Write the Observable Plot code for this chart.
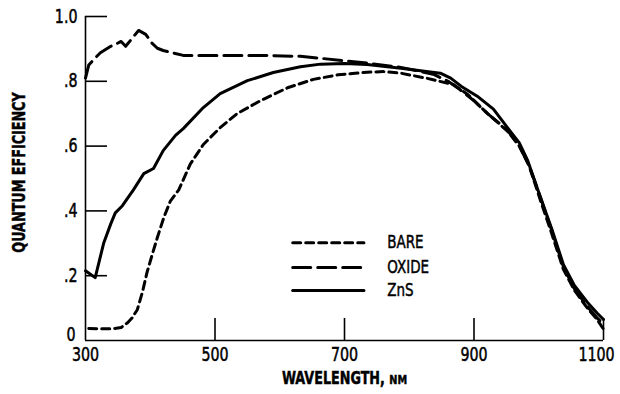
<!DOCTYPE html>
<html><head><meta charset="utf-8">
<script src="https://cdn.jsdelivr.net/npm/d3@7"></script>
<script src="https://cdn.jsdelivr.net/npm/@observablehq/plot@0.6"></script>
<style>
body{margin:0;background:#fff}
#chart svg{display:block}
</style>
</head><body><div id="chart"></div>
<script>
// ---- data ----
const bareWl = [305,320,340,355,365,372,380,388,395,403,411,421,431,444,462,482,508,534,570,612,652,690,735,760,787,828,868,890,921,952,970,985,1003,1020,1038,1055,1075,1090,1100];
const bareQe = [.037,.036,.036,.04,.055,.07,.095,.15,.21,.265,.318,.38,.43,.465,.545,.605,.657,.70,.74,.78,.806,.82,.828,.83,.825,.809,.79,.76,.70,.646,.60,.54,.43,.33,.22,.155,.10,.065,.035];

const oxideWl = [300,305,313,323,339,349,355,362,373,382,393,403,411,420,451,508,570,632,663,735,787,837,860,876,900,921,941,955,970,985,1003,1020,1038,1055,1075,1090,1100];
const oxideQe = [.81,.85,.868,.888,.908,.917,.923,.908,.935,.957,.945,.917,.902,.895,.88,.88,.88,.877,.871,.856,.843,.822,.80,.778,.74,.70,.667,.64,.60,.54,.44,.34,.228,.16,.105,.07,.05];

const znsWl = [300,315,328,339,346,357,374,390,405,420,439,451,482,508,550,590,632,663,700,735,787,848,864,880,905,930,952,970,983,1003,1020,1038,1055,1075,1090,1100];
const znsQe = [.215,.194,.30,.36,.394,.416,.465,.515,.531,.586,.633,.654,.719,.762,.802,.827,.845,.853,.855,.852,.84,.825,.81,.785,.754,.714,.656,.61,.555,.44,.345,.235,.17,.118,.085,.065];

const seriesNames = ["BARE", "OXIDE", "ZnS"];
const xTicks = [300, 500, 700, 900, 1100];
const yTicks = [0, 0.2, 0.4, 0.6, 0.8, 1.0];
const yTickLabels = ["0", ".2", ".4", ".6", ".8", "1.0"];
const xTitle = "WAVELENGTH, NM";
const yTitle = "QUANTUM EFFICIENCY";

// ---- tables ----
const toRows = (wl, qe) => wl.map((w, i) => ({wl: w, qe: qe[i]}));
const bare = toRows(bareWl, bareQe);
const oxide = toRows(oxideWl, oxideQe);
const zns = toRows(znsWl, znsQe);

// legend layout (in chart units)
const legendX1 = 620, legendX2 = 730, legendTextX = 766;
const legendY = [0.302, 0.225, 0.154];
const dashes = ["8,5", "18,7", null];
const legendLine = (i) => [{wl: legendX1, qe: legendY[i]}, {wl: legendX2, qe: legendY[i]}];

const font = "'DejaVu Sans', sans-serif";
const squeeze = 0.75; // condensed lettering as in the original
const sw = 3;
const yLabel = (d) => yTickLabels[yTicks.indexOf(d)];

const plot = Plot.plot({
  width: 620,
  height: 394,
  marginLeft: 85,
  marginRight: 17,
  marginTop: 16,
  marginBottom: 54,
  style: {fontFamily: font, fontSize: "18px", color: "#000", background: "#fff"},
  x: {domain: [300, 1100]},
  y: {domain: [0, 1]},
  marks: [
    // axis lines
    Plot.ruleX([300], {stroke: "#000", strokeWidth: 1.6}),
    Plot.ruleY([0], {stroke: "#000", strokeWidth: 1.6}),
    // inward ticks
    Plot.axisX({ticks: xTicks.slice(1), tickSize: -22, tickFormat: () => "", label: null, strokeWidth: 1.6}),
    Plot.axisY({ticks: yTicks.slice(1), tickSize: -22, tickFormat: () => "", label: null, strokeWidth: 1.6}),
    // tick labels
    Plot.axisX({ticks: xTicks.slice(0, -1), tickSize: 0, tickPadding: 7, tickFormat: d => String(d), label: null, fontSize: 19, fontFamily: font}),
    Plot.axisX({ticks: xTicks.slice(-1), tickSize: 0, tickPadding: 7, dx: -7, tickFormat: d => String(d), label: null, fontSize: 19, fontFamily: font}),
    Plot.axisY({ticks: yTicks.slice(1), tickSize: 0, tickPadding: 8, tickFormat: yLabel, label: null, fontSize: 19, fontFamily: font}),
    Plot.axisY({ticks: yTicks.slice(0, 1), tickSize: 0, tickPadding: 10, dy: -6, tickFormat: yLabel, label: null, fontSize: 19, fontFamily: font}),
    // titles
    Plot.text([xTitle], {frameAnchor: "bottom", dy: 38, lineAnchor: "middle", textAnchor: "middle", fontSize: 17, fontWeight: "bold", fontFamily: font}),
    Plot.text([yTitle], {frameAnchor: "left", dx: -66, dy: -6, rotate: -90, textAnchor: "middle", lineAnchor: "middle", fontSize: 17, fontWeight: "bold", fontFamily: font}),
    // curves
    Plot.line(bare, {x: "wl", y: "qe", stroke: "#000", strokeWidth: sw, strokeDasharray: dashes[0]}),
    Plot.line(oxide, {x: "wl", y: "qe", stroke: "#000", strokeWidth: sw, strokeDasharray: dashes[1]}),
    Plot.line(zns, {x: "wl", y: "qe", stroke: "#000", strokeWidth: sw}),
    // legend
    ...seriesNames.map((s, i) => Plot.line(legendLine(i), {x: "wl", y: "qe", stroke: "#000", strokeWidth: sw, strokeDasharray: dashes[i]})),
    Plot.text(seriesNames.map((s, i) => ({s, qe: legendY[i]})), {x: () => legendTextX, y: "qe", text: "s", textAnchor: "start", fontSize: 18, fontFamily: font})
  ]
});

// smaller "NM" as in the original
d3.select(plot).selectAll("text").filter(function() { return this.textContent === xTitle; }).each(function() {
  const t = d3.select(this);
  t.text("WAVELENGTH, ");
  t.append("tspan").attr("font-size", 13).text("NM");
});

// condense all lettering horizontally around each text's anchor (x/y attributes stay local),
// and give the lettering the slightly heavier look of the original
d3.select(plot).selectAll("text").each(function() {
  const tr = this.getAttribute("transform");
  this.setAttribute("transform", (tr ? tr + " " : "") + `scale(${squeeze},1)`);
  this.setAttribute("stroke", "#000");
  this.setAttribute("stroke-width", "0.5");
});

document.getElementById("chart").appendChild(plot);
</script>
</body></html>
